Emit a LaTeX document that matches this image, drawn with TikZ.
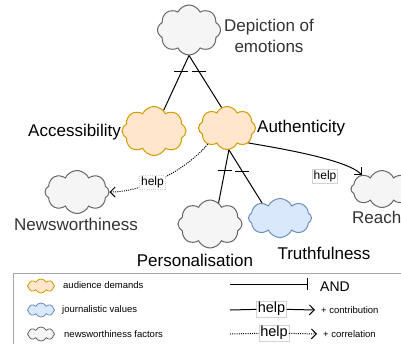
\documentclass[tikz,border=0pt]{standalone}
\usepackage{fontspec}
\setmainfont{Liberation Sans}
\usetikzlibrary{shapes.symbols,arrows.meta,positioning}
\usepackage{xcolor}
\definecolor{demandfill}{HTML}{FFE6CC}
\definecolor{demanddraw}{HTML}{D79B00}
\definecolor{valuefill}{HTML}{DAE8FC}
\definecolor{valuedraw}{HTML}{6C8EBF}
\definecolor{factorfill}{HTML}{F5F5F5}
\definecolor{factordraw}{HTML}{666666}
\definecolor{factortext}{HTML}{333333}

\begin{document}
\begin{tikzpicture}[x=1pt,y=-1pt,
		puff/.style={cloud, cloud puffs=8, cloud puff arc=130, cloud ignores aspect, draw, line width=1pt, inner sep=0pt},
		demand/.style={puff, fill=demandfill, draw=demanddraw},
		value/.style={puff, fill=valuefill, draw=valuedraw},
		factor/.style={puff, fill=factorfill, draw=factordraw},
		mini/.style={minimum width=27pt, minimum height=14pt, line width=0.8pt},
		lbl/.style={font=\fontsize{17}{21}\selectfont},
		legtxt/.style={anchor=west, inner sep=0pt, font=\fontsize{9.5}{11}\selectfont},
		helpbox/.style={draw=gray!35, fill=white, inner sep=1.2pt, font=\fontsize{12}{14}\selectfont},
		andline/.style={line width=1pt},
		contrib/.style={line width=1pt, -{Straight Barb[length=5pt,width=10pt]}},
		corr/.style={line width=1pt, dash pattern=on 1pt off 1.2pt, -{Straight Barb[length=5pt,width=10pt]}}]
		\useasboundingbox (0,0) rectangle (401,343);
		\clip (0,0) rectangle (401,343);
		% clouds
		\node[factor, minimum width=63pt, minimum height=50pt] (dep) at (189,30) {};
		\node[demand, minimum width=64pt, minimum height=49pt] (acc) at (154,131) {};
		\node[demand, minimum width=57pt, minimum height=43pt] (aut) at (227,128) {};
		\node[factor, minimum width=64pt, minimum height=43pt] (news) at (77,192) {};
		\node[factor, minimum width=64pt, minimum height=48pt] (pers) at (210,224) {};
		\node[value, minimum width=63pt, minimum height=39pt] (truth) at (280,218) {};
		\node[factor, minimum width=62pt, minimum height=37pt] (reach) at (382,189) {};
		% labels
		\node[lbl, text=factortext, align=center] (depl) at (269,36) {Depiction of\\emotions};
		\node[lbl, anchor=east, inner sep=0pt] (accl) at (121,132) {Accessibility};
		\node[lbl, anchor=west, inner sep=0pt] (autl) at (257,128) {Authenticity};
		\node[lbl, text=factortext] (newsl) at (76,224) {Newsworthiness};
		\node[lbl] (persl) at (195,260) {Personalisation};
		\node[lbl] (truthl) at (324,253) {Truthfulness};
		\node[lbl, text=factortext, anchor=west, inner sep=0pt] (reachl) at (352,217) {Reach};
		% AND links
		\draw[andline] (dep.south) -- (acc.65) coordinate[pos=0.3] (t1);
		\draw[andline] (dep.south) -- (aut.105) coordinate[pos=0.3] (t2);
		\draw[andline] (aut.-85) -- (pers.68) coordinate[pos=0.4] (t3);
		\draw[andline] (aut.-85) -- (truth.140) coordinate[pos=0.4] (t4);
		\foreach \t in {t1,t2,t3,t4}
			\draw[andline] ([xshift=-7pt]\t) -- ([xshift=7pt]\t);
		% help links
		\draw[contrib] (aut.-35) to[out=-10,in=135,looseness=0.5] (reach.145);
		\node[helpbox] (h1) at (325,176) {help};
		\draw[corr] (aut.-140) to[out=-130,in=0,looseness=0.8] node[helpbox, pos=0.6] (h2) {help} (news.east);
		% legend
		\draw[gray!70, line width=1pt] (13,273) rectangle (420,360);
		\node[demand, mini] (k1) at (41,286) {};
		\node[value, mini] (k2) at (41,310) {};
		\node[factor, mini] (k3) at (41,334) {};
		\node[legtxt] at (63,285) {audience demands};
		\node[legtxt] at (62,310) {journalistic values};
		\node[legtxt] at (64,334) {newsworthiness factors};
		\coordinate (a1) at (230,284);
		\coordinate (a2) at (308,284);
		\draw[andline, -{Bar[width=12pt]}] (a1) -- (a2);
		\node[anchor=west, inner sep=0pt, font=\fontsize{14}{16}\selectfont] (andl) at (320,287) {AND};
		\coordinate (c1) at (230,310);
		\node[helpbox, font=\fontsize{14.5}{16}\selectfont] (lh1) at (271.5,309) {help};
		\node[legtxt] (ct) at (321,310) {+ contribution};
		\draw[andline] (c1) -- (lh1);
		\draw[contrib] (lh1) -- ([xshift=-6pt]ct.west);
		\coordinate (c2) at (230,334);
		\node[helpbox, font=\fontsize{14.5}{16}\selectfont] (lh2) at (274,333) {help};
		\node[legtxt] (rt) at (323,334) {+ correlation};
		\draw[corr, -] (c2) -- (lh2);
		\draw[corr] (lh2) -- ([xshift=-6pt]rt.west);
\end{tikzpicture}
\end{document}
